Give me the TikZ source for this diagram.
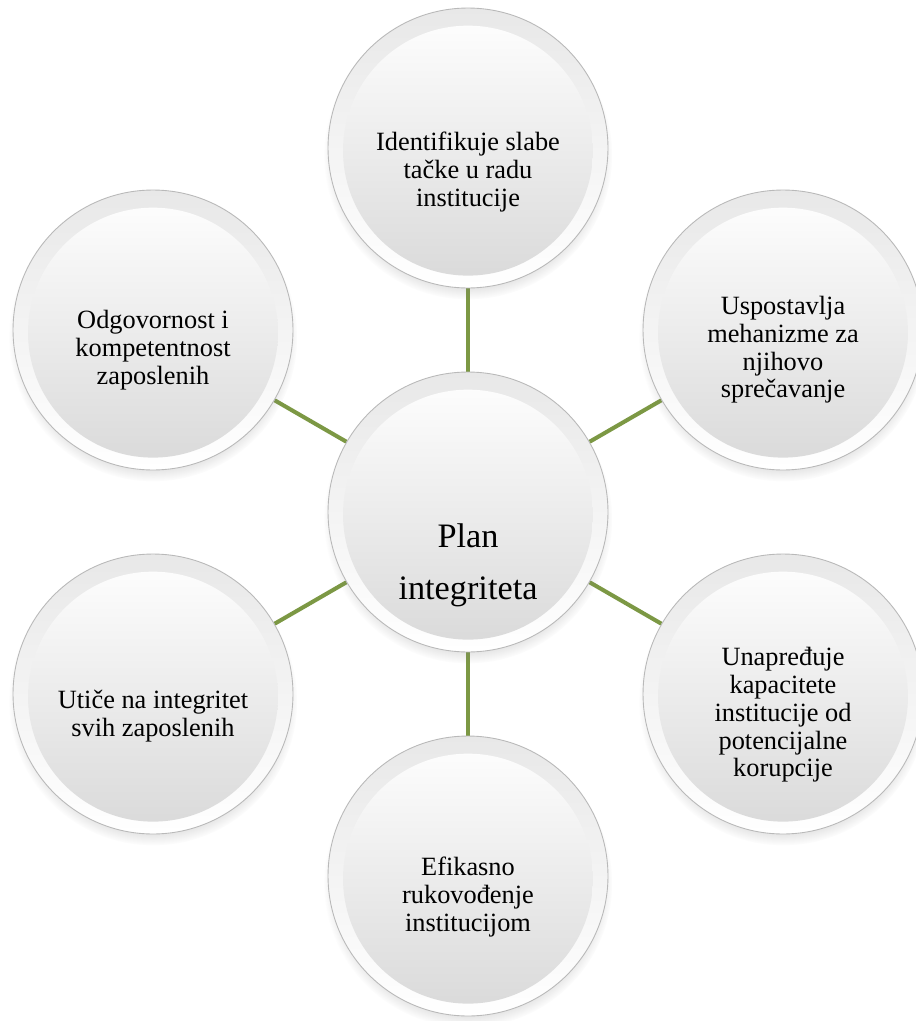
\documentclass[tikz,border=0pt]{standalone}
\usepackage{fontspec}
\setmainfont{Liberation Serif}
\usetikzlibrary{shadows,backgrounds,fadings}
\definecolor{conncol}{RGB}{124,152,68}
\begin{document}
\begin{tikzpicture}[x=0.02cm,y=-0.02cm,
  bubble/.style={circle, minimum size=5.6cm, inner sep=0pt, draw=gray!55, line width=0.5pt,
    top color=black!9, bottom color=white,
    path picture={\shade[top color=white, bottom color=black!15]
      ([yshift=-1.5pt]path picture bounding box.center) circle (2.5cm);},
    circular drop shadow={shadow xshift=0pt, shadow yshift=-4pt, shadow scale=1.03, opacity=0.35}},
  lbl/.style={align=center, font=\fontsize{15}{15.8}\selectfont, inner sep=0pt},
  biglbl/.style={align=center, font=\fontsize{19.5}{29.6}\selectfont, inner sep=0pt},
  link/.style={draw=conncol, line width=2.3pt}
]
\useasboundingbox (0,0) rectangle (916,1021);
\clip (0,0) rectangle (916,1021);
\node[bubble] (c)  at (468,512) {};
\node[bubble] (n1) at (468,148) {};
\node[bubble] (n2) at (783,330) {};
\node[bubble] (n3) at (783,694) {};
\node[bubble] (n4) at (468,876) {};
\node[bubble] (n5) at (153,694) {};
\node[bubble] (n6) at (153,330) {};
\node[biglbl] (tc) at (468,565) {Plan\\integriteta};
\node[lbl] (t1) at (468,172) {Identifikuje slabe\\tačke u radu\\institucije};
\node[lbl] (t2) at (783,350) {Uspostavlja\\mehanizme za\\njihovo\\sprečavanje};
\node[lbl] (t3) at (783,715) {Unapređuje\\kapacitete\\institucije od\\potencijalne\\korupcije};
\node[lbl] (t4) at (468,897) {Efikasno\\rukovođenje\\institucijom};
\node[lbl] (t5) at (153,716) {Utiče na integritet\\svih zaposlenih};
\node[lbl] (t6) at (153,350) {Odgovornost i\\kompetentnost\\zaposlenih};
\begin{scope}[on background layer]
  \fill[white] (0,0) rectangle (916,1021);
  \foreach \n in {n1,n2,n3,n4,n5,n6} \draw[link] (c) -- (\n);
\end{scope}
\end{tikzpicture}
\end{document}
